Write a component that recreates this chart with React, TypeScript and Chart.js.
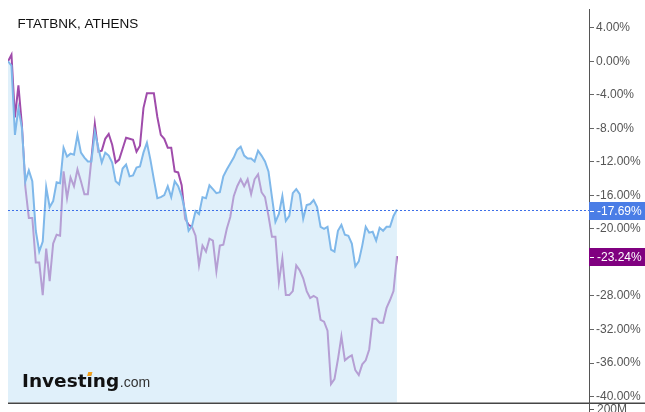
import React, { useEffect, useRef } from 'react';
import { Chart, registerables } from 'chart.js';

Chart.register(...registerables);

const TITLE = 'FTATBNK, ATHENS';
const VOLUME_LABEL = '200M';

// % change of FTATBNK (blue area) per trading day
const ftatbnk: number[] = [
  0, -0.52, -8.78, -5.59, -7.95, -14.32, -13.02, -14.32, -20.22, -22.7,
  -21.52, -15.03, -17.39, -16.68, -14.44, -14.56, -10.31, -11.37, -11.02, -11.14,
  -8.78, -10.9, -11.49, -11.96, -11.96, -8.42, -10.31, -12.08, -10.9, -11.25,
  -12.08, -14.32, -14.68, -12.79, -12.32, -13.73, -13.61, -12.67, -12.56, -10.9,
  -9.72, -11.73, -14.09, -16.33, -16.21, -15.97, -14.91, -16.21, -14.32, -14.91,
  -16.09, -17.86, -20.22, -19.63, -17.86, -18.22, -16.21, -16.33, -14.79, -15.26,
  -15.73, -15.62, -13.73, -12.91, -12.2, -11.49, -10.55, -10.19, -11.25, -11.61,
  -11.61, -11.96, -10.66, -11.25, -11.96, -13.14, -16.21, -19.16, -18.22, -16.09,
  -19.04, -18.45, -15.73, -15.26, -15.85, -18.8, -17.15, -17.03, -16.56, -17.39,
  -19.75, -19.99, -19.75, -22.46, -22.7, -20.22, -19.51, -20.69, -20.81, -21.75,
  -24.47, -23.87, -21.99, -19.75, -20.45, -20.34, -21.4, -19.87, -20.22, -19.75,
  -19.75, -18.45, -17.69,
];

// % change of ATHENS general index (purple line) per trading day
const athens: number[] = [
  0, 0.78, -6.7, -2.88, -7.6, -15.03, -18.69, -18.69, -23.99, -23.99,
  -27.89, -22.34, -26.23, -21.75, -20.69, -20.81, -13.14, -16.33, -13.85, -14.91,
  -12.91, -14.32, -15.85, -15.85, -11.73, -7.49, -10.78, -10.66, -9.25, -8.66,
  -9.96, -12.08, -11.73, -10.43, -9.13, -9.25, -9.37, -10.78, -10.07, -5.59,
  -3.82, -3.82, -3.82, -6.65, -8.78, -9.25, -10.31, -10.31, -13.14, -13.26,
  -14.79, -18.8, -19.51, -19.75, -20.81, -24.35, -21.99, -22.7, -21.16, -21.4,
  -25.06, -21.99, -21.87, -19.99, -18.57, -16.09, -14.91, -14.08, -14.91, -14.08,
  -15.85, -14.08, -13.49, -15.62, -16.21, -18.45, -20.93, -20.93, -26.35, -23.52,
  -27.89, -27.89, -27.42, -24.35, -24.94, -25.88, -27.42, -28.24, -28.0, -28.24,
  -30.84, -31.07, -32.13, -38.5, -37.91, -35.55, -32.8, -35.67, -35.32, -35.08,
  -36.85, -37.44, -36.15, -35.67, -34.38, -30.72, -30.72, -31.19, -31.19, -29.42,
  -28.48, -27.42, -23.24,
];

const yTicks: number[] = [4, 0, -4, -8, -12, -16, -20, -24, -28, -32, -36, -40];
const Y_MIN = -40.74;
const Y_MAX = 6.21;

const BLUE_LINE = '#7fb8ea';
const BLUE_FILL = 'rgba(199,228,246,0.55)';
const PURPLE_LINE = '#a04cab';
const BLUE_BOX = '#4a7de6';
const PURPLE_BOX = '#800080';

export default function App() {
  const ref = useRef<HTMLCanvasElement | null>(null);

  useEffect(() => {
    if (!ref.current) return;
    const n = ftatbnk.length;
    const xMax = (n - 1) / 0.6695;

    const overlay = {
      id: 'overlay',
      afterDraw(chart: any) {
        const { ctx, chartArea, scales } = chart;
        const ys = scales.y;
        const W = chart.width;
        const H = chart.height;
        ctx.save();

        // bottom axis line
        ctx.strokeStyle = '#454545';
        ctx.lineWidth = 1.5;
        ctx.beginPath();
        ctx.moveTo(chartArea.left, chartArea.bottom + 0.5);
        ctx.lineTo(W, chartArea.bottom + 0.5);
        ctx.stroke();

        // extend vertical axis to bottom
        ctx.strokeStyle = '#555';
        ctx.lineWidth = 1;
        ctx.beginPath();
        ctx.moveTo(chartArea.right + 0.5, chartArea.bottom);
        ctx.lineTo(chartArea.right + 0.5, H);
        ctx.stroke();

        // volume label (cut off)
        ctx.beginPath();
        ctx.moveTo(chartArea.right, H - 2.5);
        ctx.lineTo(chartArea.right + 5, H - 2.5);
        ctx.stroke();
        ctx.font = '12px "Liberation Sans", Arial, sans-serif';
        ctx.fillStyle = '#555';
        ctx.textBaseline = 'top';
        ctx.textAlign = 'left';
        ctx.fillText(VOLUME_LABEL, chartArea.right + 8, chartArea.bottom + 0.5);

        // dotted last-value line
        const lastB = ftatbnk[n - 1];
        const lastP = athens[n - 1];
        const yb = ys.getPixelForValue(lastB);
        const yp = ys.getPixelForValue(lastP);
        ctx.setLineDash([2, 2]);
        ctx.strokeStyle = '#3d6fe8';
        ctx.lineWidth = 1;
        ctx.beginPath();
        ctx.moveTo(chartArea.left, Math.round(yb) + 0.5);
        ctx.lineTo(chartArea.right, Math.round(yb) + 0.5);
        ctx.stroke();
        ctx.setLineDash([]);

        const drawBox = (yc: number, color: string, v: number) => {
          const h = 18;
          const top = Math.round(yc + 1 - h / 2);
          ctx.fillStyle = color;
          ctx.fillRect(chartArea.right, top, W - chartArea.right, h);
          ctx.strokeStyle = '#fff';
          ctx.lineWidth = 1;
          ctx.beginPath();
          ctx.moveTo(chartArea.right + 1, top + h / 2 + 0.5);
          ctx.lineTo(chartArea.right + 5, top + h / 2 + 0.5);
          ctx.stroke();
          ctx.fillStyle = '#fff';
          ctx.font = '12px "Liberation Sans", Arial, sans-serif';
          ctx.textBaseline = 'middle';
          ctx.textAlign = 'left';
          ctx.fillText(v.toFixed(2) + '%', chartArea.right + 8, top + h / 2 + 0.5);
        };
        drawBox(yb, BLUE_BOX, lastB);
        drawBox(yp, PURPLE_BOX, lastP);

        // title
        ctx.fillStyle = '#111';
        ctx.font = '13.5px "Liberation Sans", Arial, sans-serif';
        ctx.textBaseline = 'alphabetic';
        ctx.textAlign = 'left';
        ctx.fillText(TITLE, 17.5, 28.3);

        // logo
        const lx = 22;
        const ly = 386.5;
        ctx.font = 'bold 18.5px "DejaVu Sans", sans-serif';
        ctx.fillStyle = '#111';
        ctx.fillText('Investing', lx, ly);
        const wAll = ctx.measureText('Investing').width;
        const wBefore = ctx.measureText('Invest').width;
        const x0 = lx + wBefore;
        ctx.fillStyle = '#f5a21c';
        ctx.beginPath();
        ctx.moveTo(x0 + 1.8, ly - 14.6);
        ctx.lineTo(x0 + 6.0, ly - 14.6);
        ctx.lineTo(x0 + 4.6, ly - 10.6);
        ctx.lineTo(x0 + 0.6, ly - 10.6);
        ctx.closePath();
        ctx.fill();
        ctx.font = '14px "Liberation Sans", Arial, sans-serif';
        ctx.fillStyle = '#333';
        ctx.fillText('.com', lx + wAll + 0.5, ly);

        ctx.restore();
      },
    };

    const chart = new Chart(ref.current, {
      type: 'line',
      data: {
        datasets: [
          {
            label: 'ATHENS',
            data: athens.map((v, i) => ({ x: i, y: v })),
            borderColor: PURPLE_LINE,
            borderWidth: 2,
            fill: false,
            pointRadius: 0,
            order: 2,
          },
          {
            label: 'FTATBNK',
            data: ftatbnk.map((v, i) => ({ x: i, y: v })),
            borderColor: BLUE_LINE,
            borderWidth: 2,
            backgroundColor: BLUE_FILL,
            fill: 'start',
            pointRadius: 0,
            order: 1,
          },
        ],
      },
      options: {
        animation: false,
        responsive: false,
        maintainAspectRatio: false,
        layout: { padding: { left: 8, top: 8, bottom: 6, right: 0 } },
        plugins: {
          legend: { display: false },
          tooltip: { enabled: false },
          title: { display: false },
        },
        elements: { line: { tension: 0 }, point: { radius: 0 } },
        scales: {
          x: { type: 'linear', display: false, min: 0, max: xMax },
          y: {
            position: 'right',
            min: Y_MIN,
            max: Y_MAX,
            afterBuildTicks: (s: any) => {
              s.ticks = yTicks.map((v) => ({ value: v }));
            },
            afterFit: (s: any) => {
              s.width = 56;
            },
            ticks: {
              padding: 2,
              color: '#555',
              font: { family: '"Liberation Sans", Arial, sans-serif', size: 12 },
              callback: (v: any) => Number(v).toFixed(2) + '%',
            },
            grid: { drawOnChartArea: false, tickLength: 5, color: '#666' },
            border: { color: '#555', width: 1 },
          },
        },
      },
      plugins: [overlay],
    });
    return () => chart.destroy();
  }, []);

  return (
    <div style={{ position: 'absolute', left: 0, top: 0, width: 645, height: 412, background: '#fff' }}>
      <canvas ref={ref} width={645} height={412} style={{ display: 'block', width: 645, height: 412 }} />
    </div>
  );
}
